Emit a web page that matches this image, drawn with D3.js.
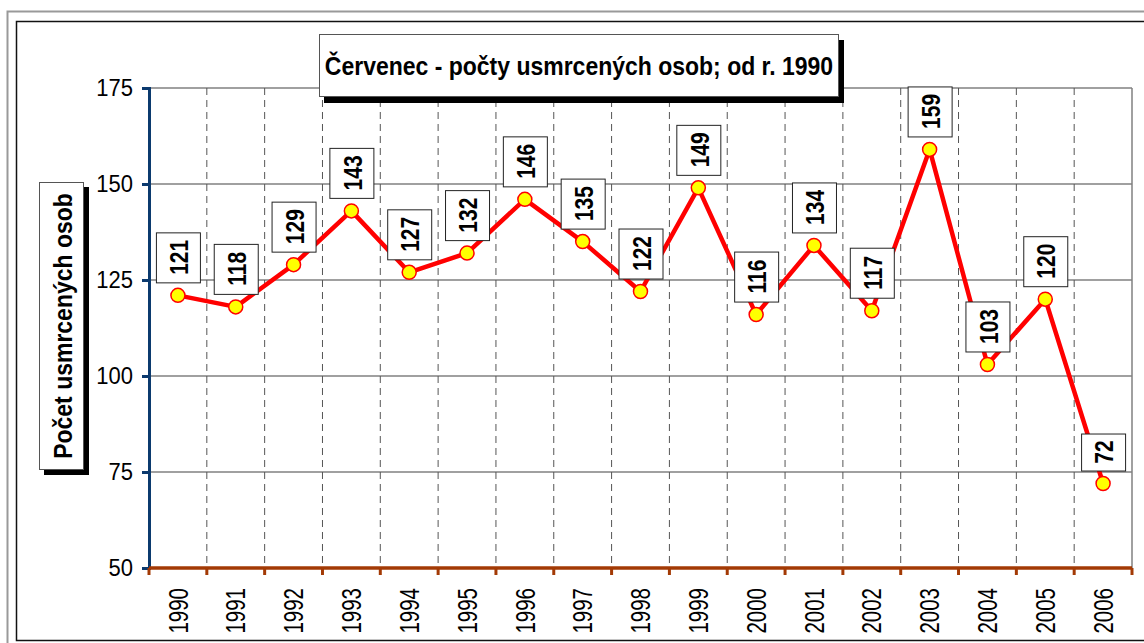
<!DOCTYPE html>
<html>
<head>
<meta charset="utf-8">
<script src="https://cdn.jsdelivr.net/npm/d3@7"></script>
<style>
  body { margin: 0; background: #fff; }
  svg { display: block; font-family: "Liberation Sans", Arial, sans-serif; }
</style>
</head>
<body>
<div class="chart"></div>
<script>
// data
var years = ["1990","1991","1992","1993","1994","1995","1996","1997","1998","1999","2000","2001","2002","2003","2004","2005","2006"];
var deaths = [121, 118, 129, 143, 127, 132, 146, 135, 122, 149, 116, 134, 117, 159, 103, 120, 72];
var yTicks = [50, 75, 100, 125, 150, 175];
var chartTitle = "Červenec - počty usmrcených osob; od r. 1990";
var yTitle = "Počet usmrcených osob";

var width = 1144, height = 643;
var plot = {left: 149, right: 1132, top: 88, bottom: 568};

const svg = d3.select(".chart")
              .append("svg")
              .attr("width", width)
              .attr("height", height);

// frames
svg.append("rect")
   .attr("x", 7.5).attr("y", 11.5)
   .attr("width", 1150).attr("height", 640)
   .attr("fill", "none").attr("stroke", "#999").attr("stroke-width", 2);
svg.append("rect")
   .attr("x", 16.5).attr("y", 21.5)
   .attr("width", 1150).attr("height", 619)
   .attr("fill", "#fff").attr("stroke", "#111").attr("stroke-width", 1.5);

const xScale = d3.scaleBand()
                 .domain(years)
                 .range([plot.left, plot.right]);
const yScale = d3.scaleLinear()
                 .domain([50, 175])
                 .range([plot.bottom, plot.top]);

// horizontal grid
svg.append("g")
   .selectAll("line")
   .data(yTicks.filter(d => d > 50))
   .enter()
   .append("line")
   .attr("x1", plot.left).attr("x2", plot.right)
   .attr("y1", d => yScale(d)).attr("y2", d => yScale(d))
   .attr("stroke", "#808080").attr("stroke-width", 1.5);

// vertical dashed grid at category boundaries
svg.append("g")
   .selectAll("line")
   .data(years.slice(1))
   .enter()
   .append("line")
   .attr("x1", d => xScale(d)).attr("x2", d => xScale(d))
   .attr("y1", plot.top).attr("y2", plot.bottom)
   .attr("stroke", "#555").attr("stroke-width", 1)
   .attr("stroke-dasharray", "7,5");

// right border
svg.append("line")
   .attr("x1", plot.right).attr("x2", plot.right)
   .attr("y1", plot.top).attr("y2", plot.bottom)
   .attr("stroke", "#808080").attr("stroke-width", 1.5);

// y axis
const yAxis = d3.axisLeft(yScale).tickValues(yTicks).tickSize(7).tickPadding(9);
const yg = svg.append("g")
   .attr("transform", "translate(" + plot.left + ",0)")
   .call(yAxis);
yg.attr("font-size", null).attr("font-family", null);
yg.select(".domain").attr("stroke", "#0B3A6E").attr("stroke-width", 3);
yg.selectAll(".tick line").attr("stroke", "#0B3A6E").attr("stroke-width", 3);
yg.selectAll(".tick text")
  .style("font-size", "22px").attr("fill", "#000")
  .attr("transform", "scale(1,1.08)");

// x axis
const xAxis = d3.axisBottom(xScale).tickSize(0).tickPadding(0);
const xg = svg.append("g")
   .attr("transform", "translate(0," + plot.bottom + ")")
   .call(xAxis);
xg.attr("font-size", null).attr("font-family", null);
xg.select(".domain").remove();
xg.append("line")
  .attr("x1", plot.left).attr("x2", plot.right)
  .attr("stroke", "#A33A05").attr("stroke-width", 3.5);
xg.selectAll(".bound")
  .data(years.concat(["end"]))
  .enter()
  .append("line")
  .attr("x1", (d, i) => i < years.length ? xScale(d) : plot.right)
  .attr("x2", (d, i) => i < years.length ? xScale(d) : plot.right)
  .attr("y1", 0).attr("y2", 7)
  .attr("stroke", "#A33A05").attr("stroke-width", 3);
xg.selectAll(".tick text")
  .style("font-size", "20.5px").attr("fill", "#000")
  .attr("text-anchor", "end")
  .attr("y", 0)
  .attr("dy", "0.35em")
  .attr("transform", "translate(0,20) rotate(-90) scale(1,1.35)");

// line
const line = d3.line()
               .x((d, i) => xScale(years[i]) + xScale.bandwidth() / 2)
               .y(d => yScale(d));
svg.append("path")
   .datum(deaths)
   .attr("d", line)
   .attr("fill", "none")
   .attr("stroke", "#FF0000")
   .attr("stroke-width", 4.5)
   .attr("stroke-linejoin", "round");

// labels
var labels = svg.append("g");
deaths.forEach((d, i) => {
  var cx = xScale(years[i]) + xScale.bandwidth() / 2;
  var cy = yScale(d);
  var h = String(d).length > 2 ? 50 : 37;
  var w = 44;
  labels.append("rect")
        .attr("x", cx - w / 2 + 0.5).attr("y", cy - 13 - h + 0.5)
        .attr("width", w).attr("height", h)
        .attr("fill", "#fff").attr("stroke", "#222").attr("stroke-width", 1);
  labels.append("text")
        .attr("transform", "translate(" + (cx + 1) + "," + (cy - 13 - h / 2) + ") rotate(-90) scale(1,1.22)")
        .attr("text-anchor", "middle")
        .attr("dy", "0.36em")
        .style("font-size", "21px")
        .attr("font-weight", "bold")
        .text(d);
});

// markers
svg.append("g")
   .selectAll("circle")
   .data(deaths)
   .enter()
   .append("circle")
   .attr("cx", (d, i) => xScale(years[i]) + xScale.bandwidth() / 2)
   .attr("cy", d => yScale(d))
   .attr("r", 7)
   .attr("fill", "#FFFF00")
   .attr("stroke", "#FF0000")
   .attr("stroke-width", 1.5);

// title box
svg.append("rect")
   .attr("x", 324).attr("y", 40).attr("width", 520).attr("height", 63)
   .attr("fill", "#000");
svg.append("rect")
   .attr("x", 319.5).attr("y", 34.5).attr("width", 519).attr("height", 62)
   .attr("fill", "#fff").attr("stroke", "#555").attr("stroke-width", 1);
svg.append("text")
   .attr("transform", "translate(579,66) scale(1,1.1)")
   .attr("text-anchor", "middle")
   .attr("dy", "0.36em")
   .style("font-size", "23px")
   .attr("font-weight", "bold")
   .text(chartTitle);

// y title box
svg.append("rect")
   .attr("x", 44).attr("y", 187).attr("width", 45).attr("height", 288)
   .attr("fill", "#000");
svg.append("rect")
   .attr("x", 39.5).attr("y", 182.5).attr("width", 44).attr("height", 287)
   .attr("fill", "#fff").attr("stroke", "#555").attr("stroke-width", 1);
svg.append("text")
   .attr("transform", "translate(62,326) rotate(-90) scale(1,1.15)")
   .attr("text-anchor", "middle")
   .attr("dy", "0.36em")
   .style("font-size", "23px")
   .attr("font-weight", "bold")
   .text(yTitle);
</script>
</body>
</html>
